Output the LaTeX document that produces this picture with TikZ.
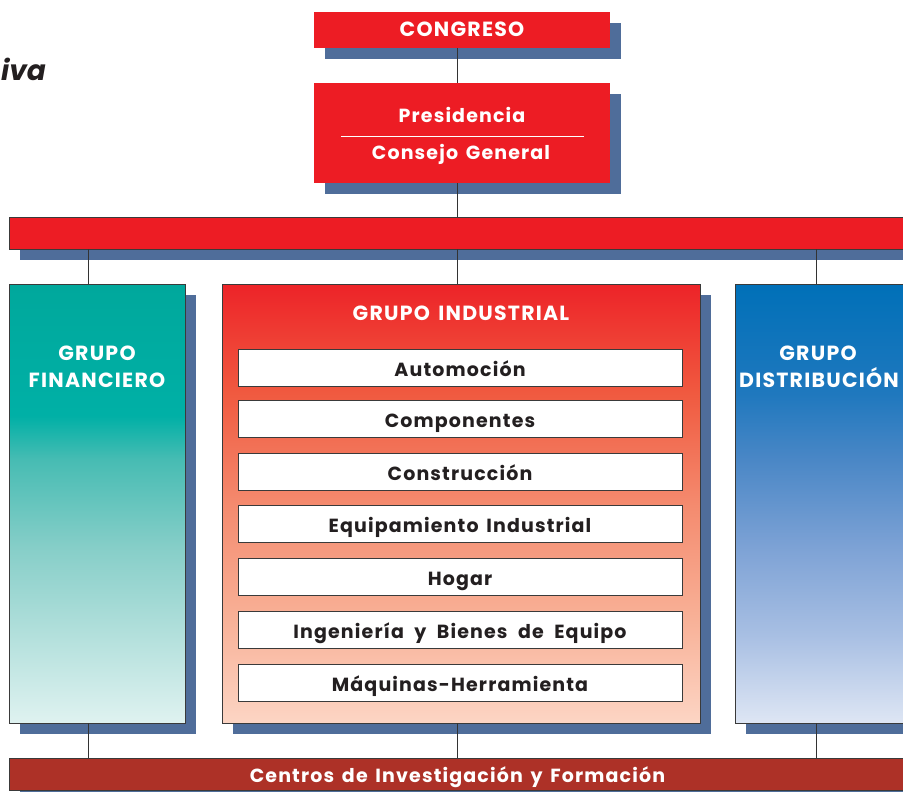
\documentclass[tikz,border=0pt]{standalone}
\usepackage{fontspec}
\setmainfont{Poppins}
\newfontfamily\popls[LetterSpace=6,WordSpace=1.5]{Poppins}
\usetikzlibrary{shadows}
\definecolor{cred}{HTML}{ED1C24}
\definecolor{cshadow}{HTML}{4F6D9A}
\definecolor{cborder}{HTML}{3A3A3A}
\definecolor{ctext}{HTML}{231F20}
\definecolor{cline}{HTML}{333333}
\definecolor{cbottom}{HTML}{AD3127}
\definecolor{tealA}{HTML}{00A89C}
\definecolor{tealB}{HTML}{00B0A6}
\definecolor{tealC}{HTML}{47BCB3}
\definecolor{tealD}{HTML}{86CEC8}
\definecolor{tealE}{HTML}{B3E0DC}
\definecolor{tealF}{HTML}{DFF2F0}
\definecolor{indA}{HTML}{ED2328}
\definecolor{indB}{HTML}{F05A40}
\definecolor{indC}{HTML}{F48A6E}
\definecolor{indD}{HTML}{F8AF95}
\definecolor{indE}{HTML}{FCD5C4}
\definecolor{disA}{HTML}{0070B8}
\definecolor{disB}{HTML}{1F78BE}
\definecolor{disC}{HTML}{4A87C6}
\definecolor{disD}{HTML}{7DA2D5}
\definecolor{disE}{HTML}{A8BFE3}
\definecolor{disF}{HTML}{DEE6F4}
\pgfdeclareverticalshading{tealsh}{100bp}{color(0bp)=(tealF); color(25bp)=(tealF); color(35bp)=(tealE); color(45bp)=(tealD); color(55bp)=(tealC); color(60bp)=(tealB); color(75bp)=(tealA); color(100bp)=(tealA)}
\pgfdeclareverticalshading{indsh}{100bp}{color(0bp)=(indE); color(25bp)=(indE); color(37.5bp)=(indD); color(50bp)=(indC); color(62.5bp)=(indB); color(75bp)=(indA); color(100bp)=(indA)}
\pgfdeclareverticalshading{dissh}{100bp}{color(0bp)=(disF); color(25bp)=(disF); color(35bp)=(disE); color(45bp)=(disD); color(55bp)=(disC); color(62.5bp)=(disB); color(75bp)=(disA); color(100bp)=(disA)}
\begin{document}
\begin{tikzpicture}[x=1pt,y=-1pt,
  shd/.style={drop shadow={shadow xshift=11pt,shadow yshift=-11pt,fill=cshadow,opacity=1}},
  redbox/.style={rectangle, fill=cred, inner sep=0pt, text=white, shd},
  wtext/.style={text=white, inner sep=0pt, anchor=base},
  bar/.style={rectangle, inner sep=0pt, draw=cborder, line width=0.8pt, shd},
  grp/.style={rectangle, draw=cborder, line width=0.8pt, inner sep=0pt, minimum height=439pt, shd},
  gtitle/.style={wtext, font=\popls\bfseries\fontsize{20.5}{24}\selectfont},
  item/.style={rectangle, draw=cborder, fill=white, line width=0.8pt, minimum width=444pt, minimum height=37pt, inner sep=0pt, text height=17pt, text depth=0pt, font=\popls\bfseries\fontsize{19}{22}\selectfont, text=ctext},
  conn/.style={draw=cline, line width=0.8pt}]
\useasboundingbox (0,0) rectangle (903,792);
\clip (0,0) rectangle (903,792);
% partial title
\node[anchor=base west, inner sep=0pt, font=\bfseries\itshape\fontsize{28}{32}\selectfont, text=ctext] (title) at (1,81) {iva};
% top boxes
\node[redbox, minimum width=296pt, minimum height=36pt, text height=14pt, text depth=0pt, font=\popls\bfseries\fontsize{20.5}{24}\selectfont] (congreso) at (462,30) {CONGRESO};
\node[redbox, minimum width=296pt, minimum height=100pt] (pres) at (462,133) {};
\node[wtext, font=\popls\bfseries\fontsize{19}{22}\selectfont] (presT) at (462,122.5) {Presidencia};
\node[wtext, font=\popls\bfseries\fontsize{19}{22}\selectfont] (consT) at (461,159.5) {Consejo General};
\draw[white, line width=0.7pt] (341,136) -- (584,136);
% wide bar
\node[bar, fill=cred, minimum width=897pt, minimum height=32pt] (topbar) at (457.5,233) {};
% groups
\node[grp, shading=tealsh, minimum width=176pt] (fin) at (97,503.5) {};
\node[grp, shading=indsh, minimum width=478pt] (ind) at (461,503.5) {};
\node[grp, shading=dissh, minimum width=174pt] (dis) at (822,503.5) {};
\node[gtitle] (finT1) at (97,360) {GRUPO};
\node[gtitle] (finT2) at (97,387.5) {FINANCIERO};
\node[gtitle] (indT) at (461,320) {GRUPO INDUSTRIAL};
\node[gtitle] (disT1) at (818,360) {GRUPO};
\node[gtitle] (disT2) at (819,387.5) {DISTRIBUCIÓN};
% items
\node[item] (i1) at (460,368) {Automoción};
\node[item] (i2) at (460,418.5) {Componentes};
\node[item] (i3) at (460,471.5) {Construcción};
\node[item] (i4) at (460,524) {Equipamiento Industrial};
\node[item] (i5) at (460,577) {Hogar};
\node[item] (i6) at (460,629.5) {\spaceskip=10.5pt\relax Ingeniería y Bienes de Equipo};
\node[item] (i7) at (460,682.5) {Máquinas-Herramienta};
% bottom bar
\node[bar, fill=cbottom, minimum width=897pt, minimum height=32pt, text=white, text height=16pt, text depth=0pt, font=\popls\bfseries\fontsize{19}{22}\selectfont] (cif) at (457.5,774) {Centros de Investigación y Formación};
% connectors
\coordinate (l1) at (88,0);
\coordinate (l2) at (457,0);
\coordinate (l3) at (816,0);
\draw[conn] (congreso.south -| l2) -- (pres.north -| l2);
\draw[conn] (pres.south -| l2) -- (topbar.north -| l2);
\draw[conn] (topbar.south -| l1) -- (fin.north -| l1);
\draw[conn] (topbar.south -| l2) -- (ind.north -| l2);
\draw[conn] (topbar.south -| l3) -- (dis.north -| l3);
\draw[conn] (fin.south -| l1) -- (cif.north -| l1);
\draw[conn] (ind.south -| l2) -- (cif.north -| l2);
\draw[conn] (dis.south -| l3) -- (cif.north -| l3);
\end{tikzpicture}
\end{document}
